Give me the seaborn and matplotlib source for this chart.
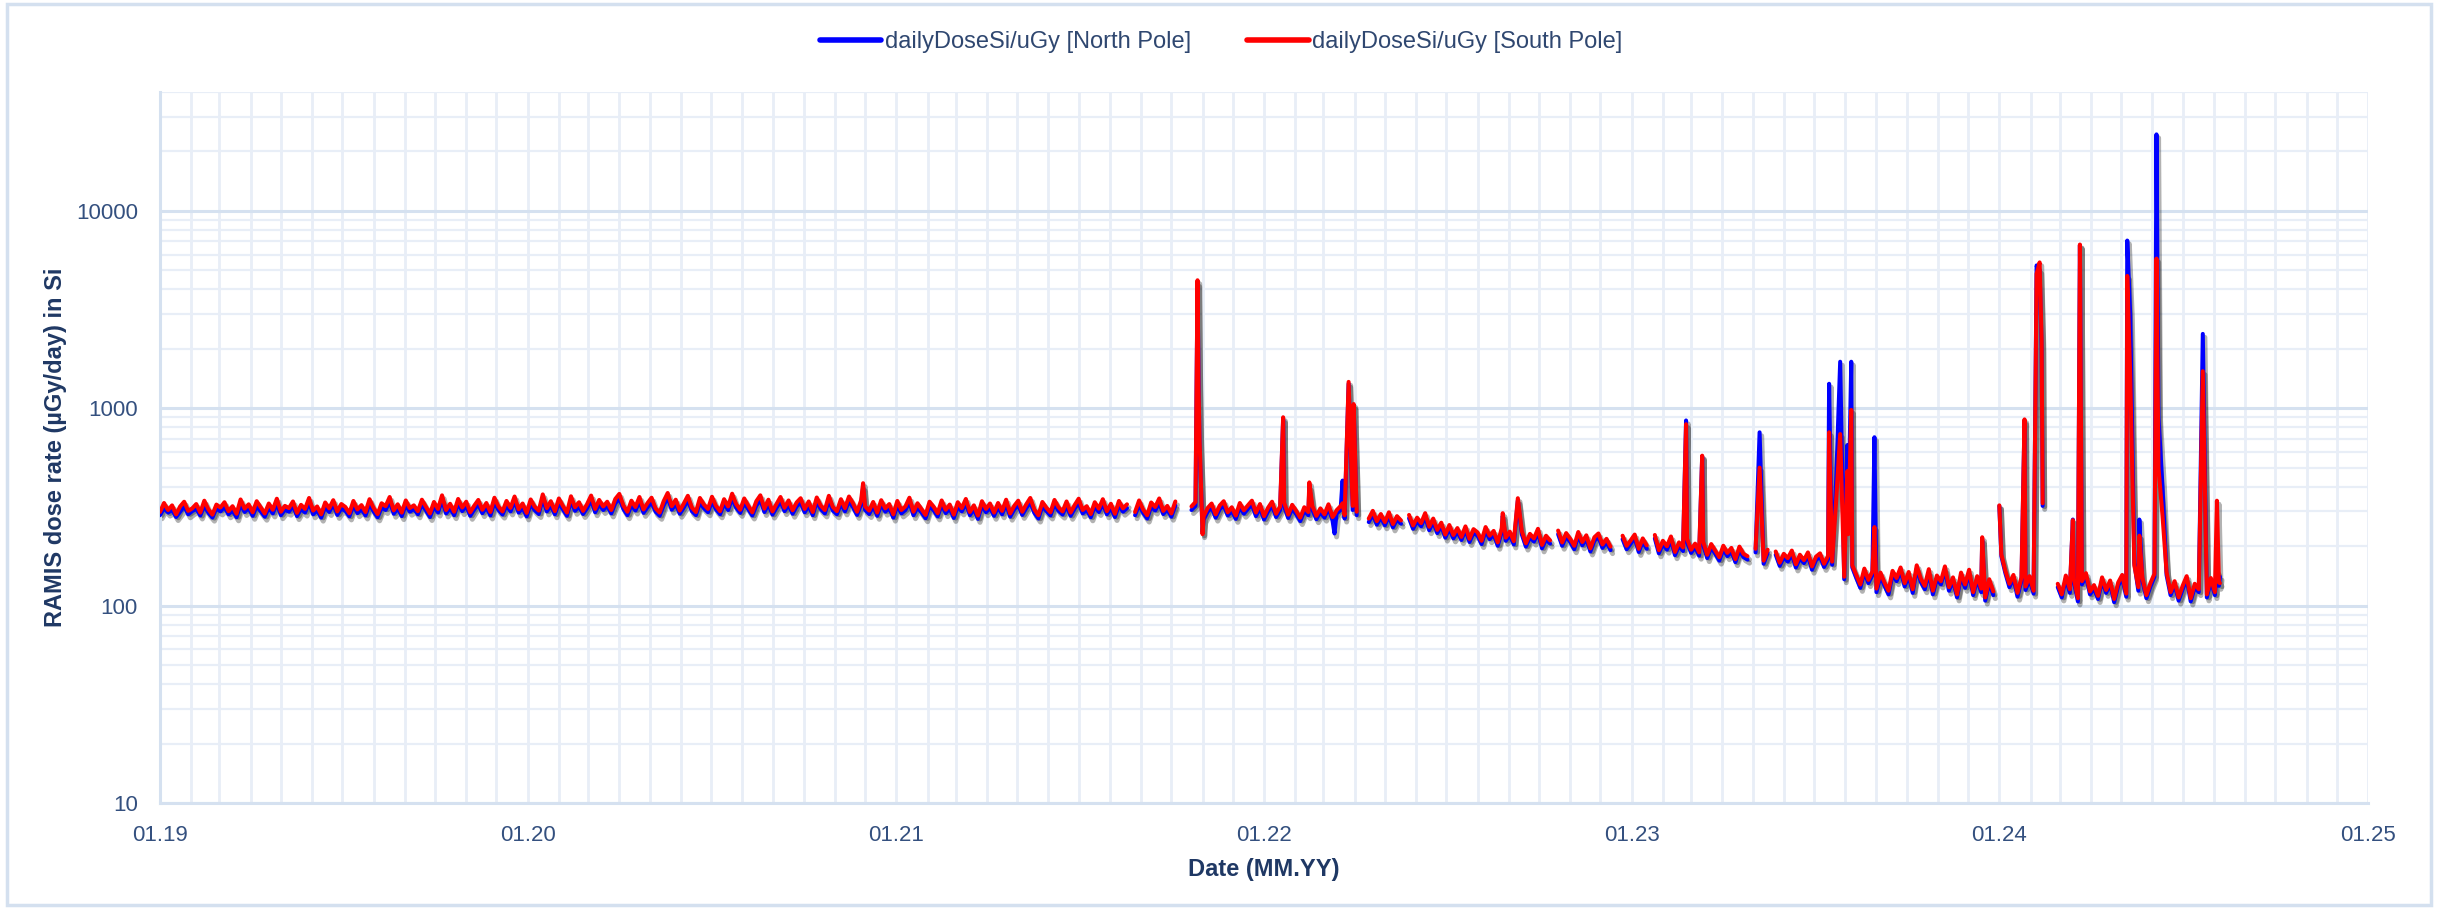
import numpy as np
import pandas as pd
import matplotlib
matplotlib.use("Agg")
import matplotlib.pyplot as plt
import matplotlib.dates as mdates
import matplotlib.ticker as mticker
import matplotlib.patheffects as pe
from matplotlib.lines import Line2D
from matplotlib.patches import Rectangle
import seaborn as sns

# ---------------------------------------------------------------------------
# Daily dose rate in silicon (µGy/day); background sampled every 4 days from
# 2019-01-01, None marks data gaps.  Solar particle events listed separately.
# ---------------------------------------------------------------------------
START = "2019-01-01"
STEP_DAYS = 4

south_base = [
    298, 331, 305, 322, 290, 318, 336, 302, 311, 327, 296, 340, 308, 289, 325, 314,
    334, 301, 319, 292, 345, 310, 326, 297, 338, 315, 293, 329, 306, 348, 299, 320,
    312, 337, 295, 324, 309, 351, 303, 318, 290, 333, 311, 342, 300, 327, 316, 294,
    339, 307, 323, 298, 346, 313, 291, 330, 319, 355, 304, 326, 296, 341, 312, 322,
    301, 344, 317, 293, 335, 309, 362, 305, 328, 299, 347, 314, 336, 297, 321, 343,
    306, 331, 298, 352, 318, 300, 339, 313, 357, 308, 329, 295, 345, 317, 303, 366,
    312, 338, 301, 349, 320, 296, 358, 315, 334, 302, 327, 361, 309, 343, 318, 336,
    305, 347, 368, 322, 299, 340, 316, 355, 307, 331, 352, 311, 296, 338, 372, 319,
    344, 303, 329, 360, 314, 298, 351, 325, 309, 356, 320, 301, 346, 318, 369, 327,
    306, 349, 321, 297, 338, 362, 310, 344, 300, 327, 355, 313, 341, 304, 333, 350,
    309, 337, 298, 353, 321, 305, 360, 316, 301, 346, 312, 357, 330, 299, 341, 318,
    303, 335, 296, 342, 311, 327, 290, 339, 305, 318, 352, 299, 330, 308, 288, 336,
    317, 294, 341, 306, 325, 289, 334, 312, 347, 298, 322, 286, 338, 309, 329, 296,
    331, 302, 344, 293, 320, 340, 299, 326, 351, 307, 287, 335, 313, 297, 343, 315,
    300, 337, 296, 323, 348, 305, 319, 291, 334, 310, 346, 301, 328, 292, 339, 311,
    326, None, 298, 341, 307, 287, 333, 316, 349, 302, 320, 293, 337, None, None, None,
    318, 335, 700, 283, 312, 329, 290, 321, 338, 297, 315, 286, 331, 304, 322, 340,
    296, 327, 284, 313, 336, 292, 318, 333, 289, 324, 302, 279, 315, 298, 320, 285,
    311, 290, 326, 281, 304, 319, 287, 1360, 320, 299, None, None, 276, 302, 268, 291,
    265, 297, 259, 284, 270, None, 288, 255, 279, 262, 294, 251, 276, 242, 263, 229,
    256, 228, 247, 223, 252, 218, 244, 235, 213, 250, 226, 239, 209, 246, 221, 237,
    212, 350, 238, 207, 231, 219, 245, 203, 226, 214, None, 240, 209, 233, 218, 201,
    236, 210, 227, 195, 222, 232, 204, 218, 199, None, None, 226, 201, 214, 229, 194,
    219, 202, None, 228, 191, 213, 200, 224, 187, 209, 197, 218, 192, 206, 186, 211,
    181, 205, 190, 176, 201, 185, 196, 172, 199, 183, 178, None, 194, 500, 169, 192,
    None, 188, 165, 183, 174, 190, 162, 181, 170, 186, 158, 177, 184, 163, 179, 167,
    340, 740, 140, 230, 160, 143, 128, 154, 135, 149, 122, 147, 131, 119, 150, 138,
    156, 130, 148, 121, 160, 137, 126, 153, 119, 142, 133, 158, 124, 139, 114, 147,
    128, 152, 117, 141, 122, 110, 136, 118, None, 182, 150, 129, 143, 116, 139, 125,
    141, 119, 5000, 2200, None, None, None, 129, 114, 142, 121, 137, 109, 133, 146, 118,
    127, 112, 139, 120, 134, 108, 131, 143, 115, 1440, 160, 124, 139, 113, 130, 145,
    500, 285, 148, 117, 133, 110, 126, 141, 109, 129, 121, 1540, 114, 138, 117, 131,
]

north_base = [
    287, 312, 296, 305, 281, 299, 318, 290, 301, 309, 286, 321, 295, 279, 311, 300,
    316, 290, 303, 280, 326, 298, 312, 285, 319, 300, 282, 314, 293, 330, 287, 306,
    299, 321, 284, 309, 296, 333, 290, 304, 279, 316, 298, 327, 288, 310, 302, 283,
    322, 294, 308, 286, 328, 300, 280, 314, 305, 337, 292, 311, 284, 324, 299, 309,
    290, 327, 303, 281, 318, 296, 343, 293, 312, 287, 330, 301, 320, 285, 307, 326,
    294, 315, 286, 334, 305, 289, 322, 300, 339, 296, 313, 283, 328, 304, 291, 348,
    300, 322, 290, 331, 307, 285, 340, 302, 318, 291, 312, 343, 297, 326, 305, 320,
    293, 330, 349, 309, 287, 323, 303, 337, 295, 315, 334, 299, 285, 322, 353, 306,
    327, 292, 314, 342, 301, 287, 333, 311, 297, 338, 307, 290, 329, 305, 350, 313,
    295, 331, 308, 286, 321, 344, 298, 327, 289, 313, 337, 301, 324, 292, 318, 333,
    297, 321, 287, 336, 308, 293, 342, 303, 290, 329, 300, 339, 315, 288, 325, 305,
    291, 319, 285, 326, 299, 312, 279, 322, 293, 305, 335, 287, 315, 296, 277, 320,
    304, 283, 325, 294, 311, 278, 318, 300, 330, 287, 308, 275, 322, 297, 314, 285,
    316, 290, 328, 282, 307, 324, 288, 312, 334, 295, 276, 319, 301, 286, 327, 302,
    289, 321, 285, 310, 331, 293, 306, 280, 318, 298, 329, 290, 313, 281, 323, 299,
    312, None, 287, 325, 295, 276, 318, 303, 332, 291, 307, 282, 321, None, None, None,
    305, 320, 650, 272, 299, 314, 279, 308, 322, 286, 302, 275, 316, 292, 309, 325,
    284, 313, 273, 300, 321, 281, 305, 318, 278, 310, 290, 268, 302, 287, 306, 274,
    298, 279, 312, 270, 292, 305, 276, 1330, 305, 287, None, None, 265, 290, 257, 280,
    255, 285, 249, 273, 260, None, 277, 245, 268, 252, 282, 241, 265, 233, 253, 221,
    246, 219, 237, 215, 242, 210, 234, 226, 205, 240, 217, 230, 201, 236, 213, 228,
    204, 340, 229, 199, 222, 211, 235, 195, 217, 206, None, 230, 201, 224, 210, 193,
    227, 202, 218, 188, 213, 223, 196, 210, 191, None, None, 217, 193, 206, 220, 187,
    211, 194, None, 219, 184, 205, 192, 215, 180, 201, 189, 209, 185, 198, 179, 203,
    174, 197, 183, 169, 193, 178, 188, 166, 191, 176, 171, None, 186, 755, 163, 185,
    None, 181, 159, 176, 167, 182, 156, 174, 164, 179, 152, 170, 177, 157, 172, 161,
    430, 1720, 136, 260, 156, 138, 123, 148, 130, 143, 117, 141, 126, 114, 144, 133,
    150, 125, 142, 116, 154, 132, 121, 147, 114, 137, 128, 152, 119, 134, 110, 141,
    123, 146, 113, 136, 117, 106, 131, 113, None, 178, 146, 124, 138, 111, 134, 120,
    136, 115, 5100, 2000, None, None, None, 124, 110, 137, 116, 132, 105, 128, 141, 114,
    122, 108, 134, 116, 129, 104, 126, 138, 111, 2940, 165, 119, 134, 109, 125, 140,
    900, 400, 143, 113, 128, 106, 121, 136, 105, 124, 117, 2380, 110, 133, 113, 126,
]

# Event days (days after START) and the dose rates measured on them
event_days = [698, 1030, 1031, 1035, 1115, 1141, 1166, 1174, 1185, 1333,
              1515, 1531, 1657, 1675, 1679, 1702, 1809, 1826, 1851, 1863,
              1866, 1869, 1899, 1906, 1953, 1965, 1982, 2042, 2045]
event_north = [398, 4300, 1400, 235, 880, 400, 232, 430, 1030, 285,
               867, 570, 1330, 650, 1720, 713, 215, 320, 860, 5290,
               5000, 320, 273, 6700, 7070, 273, 24400, 150, 140]
event_south = [417, 4450, 1300, 230, 900, 421, 290, 330, 1050, 294,
               830, 575, 755, 480, 980, 250, 222, 322, 878, 4800,
               5480, 330, 271, 6750, 4680, 226, 5730, 340, 130]

series_names = ["dailyDoseSi/uGy [North Pole]", "dailyDoseSi/uGy [South Pole]"]
series_colors = ["#0000ff", "#ff0000"]

assert len(south_base) == len(north_base) == 512
assert len(event_days) == len(event_north) == len(event_south)


def build_series(name, base, events):
    days = np.arange(len(base)) * STEP_DAYS
    s_base = pd.Series(np.array(base, dtype=float), index=days)
    s_ev = pd.Series(np.array(events, dtype=float), index=event_days)
    s = s_ev.combine_first(s_base).sort_index()
    seg = s.isna().cumsum()
    df = pd.DataFrame({
        "date": pd.Timestamp(START) + pd.to_timedelta(s.index, unit="D"),
        "dose": s.values,
        "segment": seg.values,
        "series": name,
    })
    return df.dropna(subset=["dose"])


data = pd.concat([
    build_series(series_names[0], north_base, event_north),
    build_series(series_names[1], south_base, event_south),
], ignore_index=True)

# ---------------------------------------------------------------------------
sns.set_style("white")
plt.rcParams["font.family"] = ["Liberation Sans", "DejaVu Sans"]

TICK_COLOR = "#34507f"
LABEL_COLOR = "#1f3864"
GRID_MAJOR = "#d5e1f0"
GRID_MINOR = "#e8eef7"

fig = plt.figure(figsize=(24.4, 9.08), dpi=100)
ax = fig.add_axes([160 / 2440, 1 - 803 / 908, 2208 / 2440, 711 / 908])
ax.set_yscale("log")

# soft drop shadow underneath both traces
n0 = len(ax.lines)
sns.lineplot(data=data, x="date", y="dose", hue="series", units="segment",
             estimator=None, hue_order=series_names,
             palette={n: "#000000" for n in series_names},
             legend=False, lw=3.6, ax=ax)
for ln in ax.lines[n0:]:
    ln.set_path_effects([pe.SimpleLineShadow(offset=(1.5, -2.5),
                                             shadow_color="#000000", alpha=0.30)])
    ln.set_zorder(2)

# the traces themselves (south drawn over north)
n1 = len(ax.lines)
sns.lineplot(data=data, x="date", y="dose", hue="series", units="segment",
             estimator=None, hue_order=series_names,
             palette=dict(zip(series_names, series_colors)),
             legend=False, lw=2.9, ax=ax)
for ln in ax.lines[n1:]:
    ln.set_zorder(3)
    ln.set_solid_joinstyle("round")

# axes limits and ticks
ax.set_ylim(10, 40000)
ax.set_xlim(pd.Timestamp("2019-01-01"), pd.Timestamp("2025-01-01"))
ax.yaxis.set_major_locator(mticker.FixedLocator([10, 100, 1000, 10000]))
ax.yaxis.set_major_formatter(mticker.FuncFormatter(lambda v, p: f"{v:.0f}"))
ax.yaxis.set_minor_locator(mticker.LogLocator(base=10, subs=np.arange(2, 10)))
ax.yaxis.set_minor_formatter(mticker.NullFormatter())
ax.xaxis.set_major_locator(mdates.YearLocator())
ax.xaxis.set_major_formatter(mdates.DateFormatter("%m.%y"))
ax.xaxis.set_minor_locator(mdates.MonthLocator())

ax.grid(which="major", axis="y", color=GRID_MAJOR, lw=2.2, zorder=0)
ax.grid(which="minor", axis="y", color=GRID_MINOR, lw=1.6, zorder=0)
ax.grid(which="both", axis="x", color=GRID_MINOR, lw=2.0, zorder=0)
ax.set_axisbelow(True)

for side in ("top", "right"):
    ax.spines[side].set_visible(False)
for side in ("left", "bottom"):
    ax.spines[side].set_color(GRID_MAJOR)
    ax.spines[side].set_linewidth(2.2)

ax.tick_params(axis="both", which="major", length=7, width=2, color=GRID_MAJOR,
               labelsize=16, labelcolor=TICK_COLOR, pad=9)
ax.tick_params(axis="both", which="minor", length=5, width=1.6, color=GRID_MAJOR)

ax.set_xlabel("Date (MM.YY)", fontsize=17, fontweight="bold", color=LABEL_COLOR)
ax.set_ylabel("RAMIS dose rate (µGy/day) in Si", fontsize=17, fontweight="bold",
              color=LABEL_COLOR)
ax.xaxis.set_label_coords(0.5, -0.077)
ax.yaxis.set_label_coords(-0.042, 0.5)

# legend at the top centre
handles = [Line2D([], [], color=c, lw=4) for c in series_colors]
fig.legend(handles=handles, labels=series_names, loc="center",
           bbox_to_anchor=(0.5005, 0.9537), ncol=2, frameon=False,
           fontsize=17, handlelength=2.6, handletextpad=0.15,
           columnspacing=2.4, labelcolor="#2f4770")

# light frame around the whole chart
fig.patches.append(Rectangle((0.003, 0.0035), 0.9935, 0.992,
                             transform=fig.transFigure, fill=False,
                             edgecolor="#d4e0ef", lw=2.5))

fig.savefig("out.png", dpi=100, facecolor="white")
